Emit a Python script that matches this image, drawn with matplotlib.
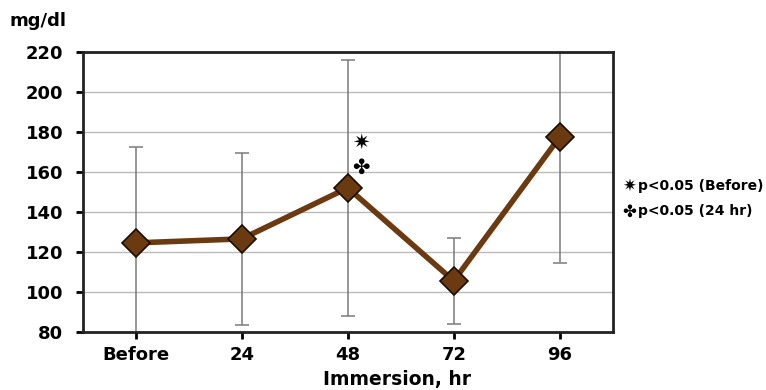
import numpy as np
import matplotlib.pyplot as plt

############ Data ############
categories = ["Before", "24", "48", "72", "96"]
means = [124.5, 126.5, 152, 105.5, 177.5]
sds = [48, 43, 64, 21.5, 63]
legend_items = [("\u2737", "p<0.05 (Before)"), ("\u2724", "p<0.05 (24 hr)")]

############ Figure ############
plt.rcParams['font.family'] = ['DejaVu Sans']
plt.rcParams['font.weight'] = 'bold'

fig = plt.figure(figsize=(7.66, 3.9), dpi=100)
ax = fig.add_axes([0.108, 0.149, 0.692, 0.718])

x = np.arange(len(categories))
ax.errorbar(x, means, yerr=sds, fmt='none', ecolor='#7a7a7a', elinewidth=1.1,
            capsize=5, capthick=1.1, zorder=2)
ax.plot(x, means, color='#6B3A10', linewidth=4, marker='D', markersize=14,
        markerfacecolor='#6B3A10', markeredgecolor='#1a0d00', markeredgewidth=1.2,
        zorder=3)

ax.set_xlim(-0.5, len(categories) - 0.5)
ax.set_ylim(80, 220)
ax.set_yticks(np.arange(80, 221, 20))
ax.set_xticks(x)
ax.set_xticklabels(categories)
ax.yaxis.grid(True, color='#bbbbbb', linewidth=1)
ax.set_axisbelow(True)
for s in ax.spines.values():
    s.set_linewidth(2)
    s.set_color('#222222')
ax.tick_params(axis='both', labelsize=13, width=2, length=5, direction='out')
ax.tick_params(axis='y', pad=9)
ax.tick_params(axis='x', pad=5)
for lab in ax.get_xticklabels() + ax.get_yticklabels():
    lab.set_fontweight('bold')

# significance marks at 48 hr
ax.text(2.12, 174.5, "\u2737", fontsize=15, ha='center', va='center', color='black')
ax.text(2.12, 162, "\u2724", fontsize=15, ha='center', va='center', color='black')

fig.text(0.013, 0.945, "mg/dl", fontsize=13, fontweight='bold', ha='left', va='center')
fig.text(0.518, 0.028, "Immersion, hr", fontsize=13.5, fontweight='bold', ha='center',
         va='center')

ys = [0.523, 0.458]
for (sym, txt), yy in zip(legend_items, ys):
    fig.text(0.812, yy, sym, fontsize=12, ha='left', va='center')
    fig.text(0.833, yy, txt, fontsize=10, fontweight='bold', ha='left', va='center')

fig.savefig("out.png", dpi=100)
